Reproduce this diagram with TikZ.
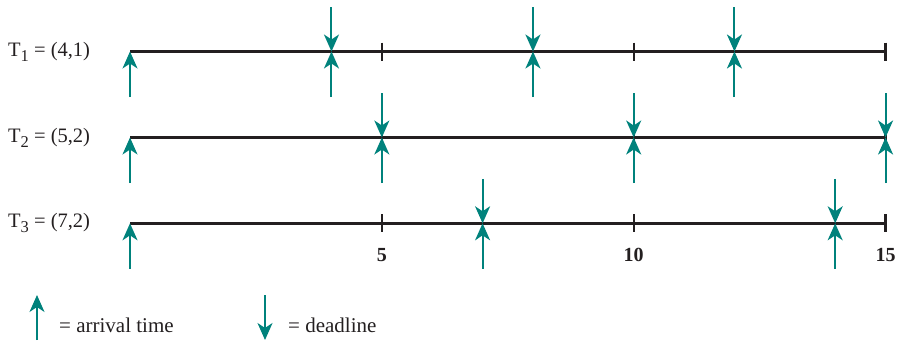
\documentclass[tikz,border=0pt]{standalone}
\usepackage{fontspec}
\setmainfont{Liberation Serif}
\usetikzlibrary{arrows.meta}
\definecolor{arrteal}{HTML}{00827C}
\definecolor{lineblack}{HTML}{231F20}
\newcommand{\tsub}[1]{\raisebox{-5pt}{\fontsize{16.5}{16.5}\selectfont #1}}
\begin{document}
\begin{tikzpicture}[x=1pt,y=-1pt,
  timeline/.style={draw=lineblack,line width=2.4pt},
  tickmark/.style={draw=lineblack,line width=2.2pt},
  evt/.style={draw=arrteal,line width=2pt,-{Stealth[length=17pt,width=15pt,inset=5pt]}},
  tasklbl/.style={font=\fontsize{20.5}{20.5}\selectfont,text=lineblack,inner sep=0pt,anchor=west},
  numlbl/.style={font=\fontsize{20}{20}\selectfont\bfseries,text=lineblack,inner sep=0pt},
  leglbl/.style={font=\fontsize{21}{21}\selectfont,text=lineblack,inner sep=0pt,anchor=west}]
\useasboundingbox (0,0) rectangle (899,341);
\def\ux{50.37}
% rows: y positions
\def\ya{51.5}\def\yb{137.5}\def\yc{223.3}
% labels
\node[tasklbl] (l1) at (8,\ya) {T\tsub{1} = (4,1)};
\node[tasklbl] (l2) at (8,\yb) {T\tsub{2} = (5,2)};
\node[tasklbl] (l3) at (8,\yc) {T\tsub{3} = (7,2)};
% timelines
\foreach \r/\yy in {1/\ya,2/\yb,3/\yc}{
  \coordinate (s\r) at (130,\yy);
  \coordinate (e\r) at (885.5,\yy);
  \draw[timeline] (s\r) -- (e\r);
  \foreach \t in {5,10,15}{
    \pgfmathsetmacro\xx{130+\ux*\t}
    \coordinate (tt\r-\t) at (\xx,\yy-9);
    \coordinate (tb\r-\t) at (\xx,\yy+9);
    \draw[tickmark] (tt\r-\t) -- (tb\r-\t);
  }
}
% arrivals (up arrows)
\foreach \r/\yy/\lst in {1/\ya/{0,4,8,12},2/\yb/{0,5,10,15},3/\yc/{0,7,14}}{
  \foreach \t in \lst {
    \pgfmathsetmacro\xx{130+\ux*\t}
    \coordinate (ar\r-\t) at (\xx,\yy+45.5);
    \coordinate (ap\r-\t) at (\xx,\yy);
    \draw[evt] (ar\r-\t) -- (ap\r-\t);
  }
}
% deadlines (down arrows)
\foreach \r/\yy/\lst in {1/\ya/{4,8,12},2/\yb/{5,10,15},3/\yc/{7,14}}{
  \foreach \t in \lst {
    \pgfmathsetmacro\xx{130+\ux*\t}
    \coordinate (dl\r-\t) at (\xx,\yy-44.5);
    \coordinate (dp\r-\t) at (\xx,\yy);
    \draw[evt] (dl\r-\t) -- (dp\r-\t);
  }
}
% axis numbers
\node[numlbl] (n5) at (130+\ux*5,255) {5};
\node[numlbl] (n10) at (130+\ux*10,255) {10};
\node[numlbl] (n15) at (130+\ux*15,255) {15};
% legend
\coordinate (lga) at (37,340);
\coordinate (lgb) at (37,295);
\draw[evt] (lga) -- (lgb);
\node[leglbl] (lgt1) at (59,325) {= arrival time};
\coordinate (lgc) at (265,295);
\coordinate (lgd) at (265,340);
\draw[evt] (lgc) -- (lgd);
\node[leglbl] (lgt2) at (288,325) {= deadline};
\end{tikzpicture}
\end{document}
